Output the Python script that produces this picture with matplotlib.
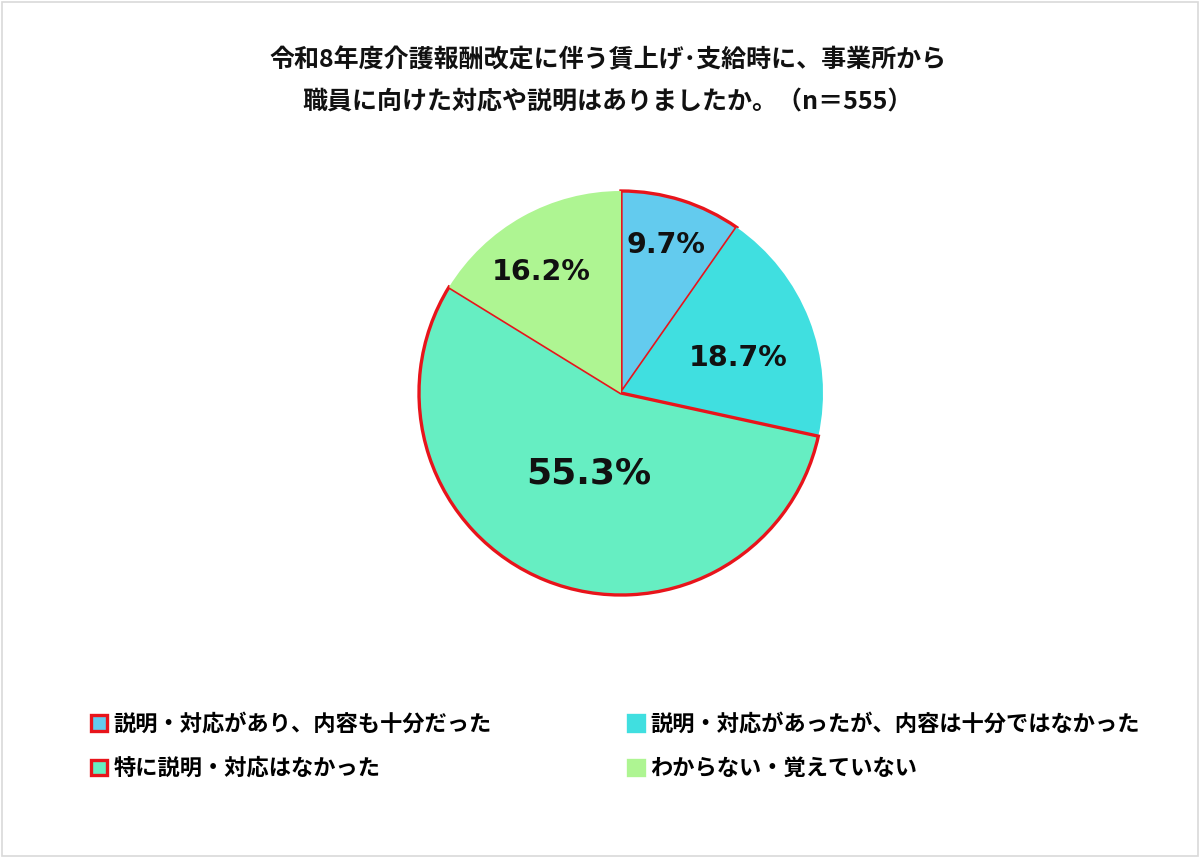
import matplotlib
matplotlib.use("Agg")
import matplotlib.pyplot as plt
from matplotlib.patches import Patch, Rectangle

plt.rcParams['font.family'] = ['Noto Sans CJK JP', 'DejaVu Sans']

categories = ["説明・対応があり、内容も十分だった",
              "説明・対応があったが、内容は十分ではなかった",
              "特に説明・対応はなかった",
              "わからない・覚えていない"]
values = [9.7, 18.7, 55.3, 16.2]
colors = ["#63CBEE", "#40DFE0", "#66EEC2", "#AEF592"]
edge_colors = ["#E8141B", "none", "#E8141B", "none"]
title = "令和8年度介護報酬改定に伴う賃上げ･支給時に、事業所から\n職員に向けた対応や説明はありましたか。（n＝555）"

W, H = 1200, 858
fig = plt.figure(figsize=(W / 100, H / 100), dpi=100)
fig.patch.set_facecolor("white")
fig.add_artist(Rectangle((0.002, 0.002), 0.996, 0.996, transform=fig.transFigure,
                         fill=False, edgecolor="#D9D9D9", linewidth=1.2))

cx, cy, r = 621, 393, 202
ax = fig.add_axes([(cx - r) / W, (H - cy - r) / H, 2 * r / W, 2 * r / H])
wedges, _ = ax.pie(values, colors=colors, startangle=90, counterclock=False,
                   radius=1.0, wedgeprops=dict(linewidth=2.4))
for w, ec in zip(wedges, edge_colors):
    w.set_clip_on(False)
    if ec == "none":
        w.set_linewidth(0)
    else:
        w.set_edgecolor(ec)
ax.set_xlim(-1.0, 1.0)
ax.set_ylim(-1.0, 1.0)
ax.set_aspect("equal")
ax.axis("off")

# label positions (pixel coordinates of label centres)
label_px = [(666, 245), (738, 358), (589, 474), (541, 272)]
sizes = [20.5, 20.5, 26, 20.5]
for v, (px, py), s in zip(values, label_px, sizes):
    x = (px - cx) / r
    y = (cy - py) / r
    ax.text(x, y, f"{v}%", ha="center", va="center", fontsize=s,
            fontweight="bold", family="DejaVu Sans", color="#111111")

fig.text(608 / W, 1 - 81 / H, title, ha="center", va="center", fontsize=18,
         fontweight="bold", linespacing=1.95, color="#111111")

handles = [Patch(facecolor=c, edgecolor=(e if e != "none" else c), linewidth=2.4)
           for c, e in zip(colors, edge_colors)]
order = [0, 2, 1, 3]
leg = fig.legend([handles[i] for i in order], [categories[i] for i in order],
                 ncol=2, loc="upper left", bbox_to_anchor=(71 / W, 1 - 693 / H),
                 frameon=False, handlelength=0.7, handleheight=0.7,
                 handletextpad=0.3, columnspacing=6.15, labelspacing=0.95,
                 prop=dict(weight="bold", size=16))

fig.savefig("out.png", dpi=100, facecolor="white")
